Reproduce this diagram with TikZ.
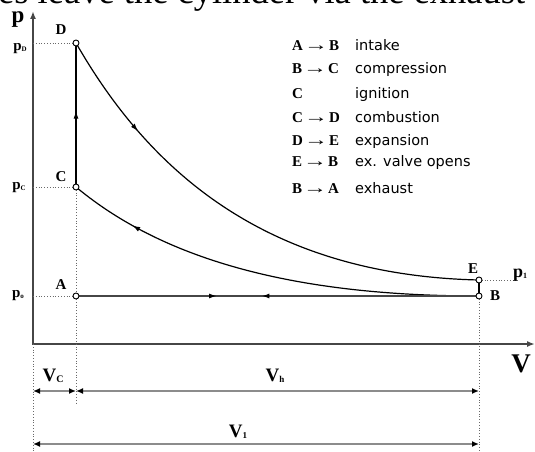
\documentclass[tikz,border=0pt]{standalone}
\usepackage{fontspec}
\setmainfont{Liberation Serif}
\newfontfamily\legendfont{DejaVu Sans}
\usetikzlibrary{arrows.meta,decorations.markings,positioning}
\definecolor{axisgray}{RGB}{70,70,70}
\definecolor{dimgray}{RGB}{140,140,140}
\definecolor{dotgray}{RGB}{105,105,105}
\newcommand\lowidx[2][7]{\raisebox{-1pt}{\fontsize{#1}{#1}\selectfont #2}}
\newcommand\legarr{\kern1pt\scalebox{1.6}[1.1]{→}\kern1pt}
\tikzset{
  state/.style={circle,draw=black,fill=white,line width=0.9pt,inner sep=0pt,minimum size=6pt},
  ptlbl/.style={font=\fontsize{15}{15}\selectfont\bfseries,inner sep=0pt},
  plbl/.style={font=\fontsize{15}{15}\selectfont\bfseries,inner sep=0pt},
  dimlbl/.style={font=\fontsize{19}{19}\selectfont\bfseries,inner sep=0pt},
  axis/.style={draw=axisgray,line width=2pt},
  guide/.style={dotgray,line width=0.8pt,dotted},
  proc/.style={black,line width=1.2pt},
  midarrow/.style={postaction={decorate},decoration={markings,
    mark=at position #1 with {\arrow{Latex[length=8pt,width=5pt]}}}},
  dimline/.style={dimgray,line width=1.8pt,
    {Latex[length=7pt,width=6pt,color=black]}-{Latex[length=7pt,width=6pt,color=black]}},
  keylbl/.style={anchor=base west,inner sep=0pt,font=\fontsize{15}{15}\selectfont\bfseries},
  legtxt/.style={anchor=base west,inner sep=0pt,font=\legendfont\fontsize{14.5}{14.5}\selectfont},
}
\begin{document}
\begin{tikzpicture}[x=1pt,y=-1pt]
  \useasboundingbox (0,0) rectangle (535,452);
  % line of text cut off above the figure
  \begin{scope}
    \clip (0,0) rectangle (535,452);
    \node[anchor=base west,inner sep=0pt,font=\fontsize{36.5}{36.5}\selectfont]
      (caption) at (-2,4) {es leave the cylinder via the exhaust};
  \end{scope}

  % axes
  \coordinate (O) at (33,344);
  \coordinate (ptip) at (33,11);
  \coordinate (Vtip) at (535,344);
  \coordinate (bot) at (0,452);
  \coordinate (d1) at (0,391);
  \coordinate (d2) at (0,444);
  \coordinate (vcend) at (0,403);
  \draw[axis,{Latex[length=8pt,width=6pt]}-{Latex[length=8pt,width=6pt]}]
    (ptip) -- (O) -- (Vtip);
  \node[font=\fontsize{23}{23}\selectfont\bfseries,inner sep=0pt] (plab) at (18,20) {p};
  \node[font=\fontsize{27}{27}\selectfont\bfseries,inner sep=0pt] (Vlab) at (521,364) {V};

  % state points
  \coordinate (Dp) at (76,43);
  \coordinate (Cp) at (76,187);
  \coordinate (Ap) at (76,296);
  \coordinate (Bp) at (479,296);
  \coordinate (Ep) at (479,280);
  \coordinate (p1end) at (516,280);

  % guide lines
  \draw[guide] (O |- Dp) -- (Dp);
  \draw[guide] (O |- Cp) -- (Cp);
  \draw[guide] (O |- Ap) -- (Ap);
  \draw[guide] (Ep) -- (p1end);
  \draw[guide] (Cp) -- (Cp |- vcend);
  \draw[guide] (O) -- (O |- bot);
  \draw[guide] (Bp) -- (Bp |- bot);

  % cycle
  \draw[proc,midarrow=0.53] (Cp) -- (Dp);
  \draw[proc,midarrow=0.22] (Dp) .. controls (146,165) and (260,275) .. (Ep);
  \draw[proc] (Ep) -- (Bp);
  \draw[proc,midarrow=0.84] (Bp) .. controls (300,296) and (166,262) .. (Cp);
  \draw[axisgray,line width=1.8pt,postaction={decorate},decoration={markings,
    mark=at position 0.35 with {\arrow[black]{Latex[length=8pt,width=5pt]}},
    mark=at position 0.46 with {\arrowreversed[black]{Latex[length=8pt,width=5pt]}}}]
    (Ap) -- (Bp);

  \node[state] (D) at (Dp) {};
  \node[state] (C) at (Cp) {};
  \node[state] (A) at (Ap) {};
  \node[state] (B) at (Bp) {};
  \node[state] (E) at (Ep) {};

  \node[ptlbl] (Dlab) at (61,30) {D};
  \node[ptlbl] (Clab) at (61,177) {C};
  \node[ptlbl] (Alab) at (61,285) {A};
  \node[ptlbl] (Elab) at (473,269) {E};
  \node[ptlbl] (Blab) at (495,296) {B};

  \node[plbl] (pD) at (20,49) {p\lowidx{D}};
  \node[plbl] (pC) at (19,188) {p\lowidx{C}};
  \node[plbl] (po) at (18,296) {p\lowidx{o}};
  \node[plbl,font=\fontsize{18}{18}\selectfont\bfseries,anchor=west] (p1) at (513,275) {p\lowidx[8]{1}};

  % volumes
  \draw[dimline] (O |- d1) -- (C |- d1);
  \draw[dimline] (C |- d1) -- (B |- d1);
  \draw[dimline] (O |- d2) -- (B |- d2);
  \node[dimlbl] (Vc) at (53,376) {V\lowidx[10]{C}};
  \node[dimlbl] (Vh) at (275,376) {V\lowidx[9]{h}};
  \node[dimlbl] (V1) at (238,432) {V\lowidx[9]{1}};

  % legend
  \foreach \y/\key/\txt [count=\i] in {
    51/{A\legarr B}/intake,
    74/{B\legarr C}/compression,
    98/{C}/ignition,
    122/{C\legarr D}/combustion,
    145/{D\legarr E}/expansion,
    166/{E\legarr B}/{ex. valve opens},
    193/{B\legarr A}/exhaust}{
    \node[keylbl] (key\i) at (292,\y) {\key};
    \node[legtxt] (txt\i) at (355,\y) {\txt};
  }
\end{tikzpicture}
\end{document}
